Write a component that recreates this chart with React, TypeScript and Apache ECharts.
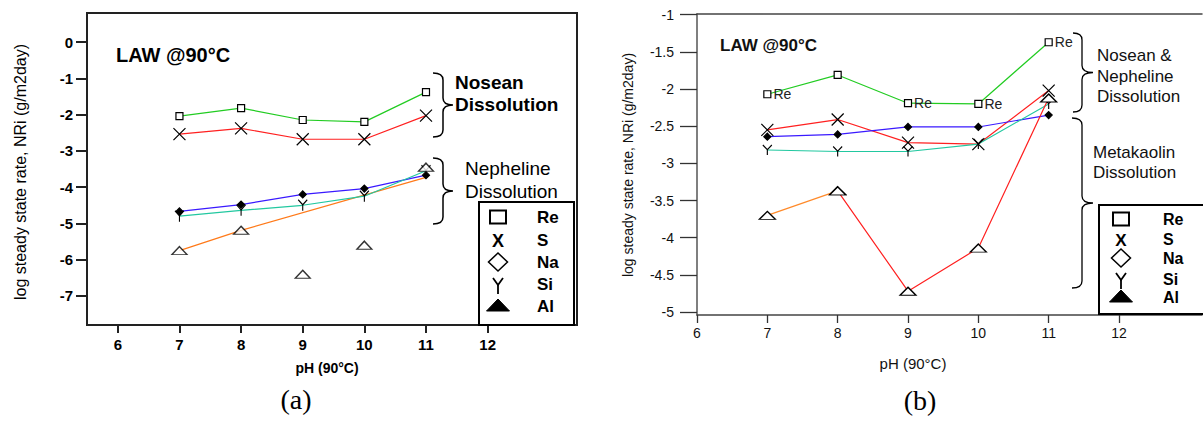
import React, { useEffect, useRef } from "react";
import * as echarts from "echarts";

// ---------- data ----------
const phValues = [7, 8, 9, 10, 11];
const xTickValues = [6, 7, 8, 9, 10, 11, 12];
const yTicksA = [-7, -6, -5, -4, -3, -2, -1, 0];
const yTicksB = [-5, -4.5, -4, -3.5, -3, -2.5, -2, -1.5, -1];

// panel (a)
const reA = [-2.04, -1.82, -2.15, -2.2, -1.38];
const sA = [-2.54, -2.38, -2.68, -2.68, -2.03];
const naA = [-4.67, -4.48, -4.2, -4.04, -3.67];
const siA = [-4.8, -4.64, -4.5, -4.25, -3.55];
const alLineA = [-5.75, -5.19, null, null, -3.73];
const alPointsA = [-5.75, -5.19, -6.4, -5.6, -3.45];

// panel (b)
const reB = [-2.07, -1.81, -2.19, -2.2, -1.37];
const reLabelB = ["Re", "", "Re", "Re", "Re"];
const sB = [-2.55, -2.41, -2.72, -2.74, -2.02];
const naB = [-2.64, -2.61, -2.51, -2.51, -2.35];
const siB = [-2.82, -2.84, -2.84, -2.74, -2.2];
const alB = [-3.7, -3.37, -4.72, -4.14, -2.12];

const legendNames = ["Re", "S", "Na", "Si", "Al"];

// ---------- helpers ----------
const FONT = "Arial, 'Liberation Sans', sans-serif";
const X_PATH = "path://M0,0L10,10M10,0L0,10";
const Y_PATH = "path://M0,0L5,6L10,0M5,6L5,13";

function braceD(w: number, h: number, s: number) {
  const r = 7;
  const m = h / 2;
  return `M0,0 Q${s},0 ${s},${r} L${s},${m - r} Q${s},${m} ${w},${m} Q${s},${m} ${s},${m + r} L${s},${h - r} Q${s},${h} 0,${h}`;
}
echarts.graphic.registerShape("braceA1", echarts.graphic.extendPath(braceD(20, 64, 10), {}));
echarts.graphic.registerShape("braceA2", echarts.graphic.extendPath(braceD(20, 66, 10), {}));
echarts.graphic.registerShape("braceB1", echarts.graphic.extendPath(braceD(20, 79, 9), {}));
echarts.graphic.registerShape("braceB2", echarts.graphic.extendPath(braceD(21, 170, 10), {}));

const pts = (ys: (number | null)[]) => phValues.map((x, i) => [x, ys[i]]);

const lineSeries = (
  name: string,
  ys: (number | null)[],
  color: string,
  symbol: string,
  size: any,
  fill: string,
  xi: number,
  yi: number
) => ({
  name,
  type: "line",
  xAxisIndex: xi,
  yAxisIndex: yi,
  data: pts(ys),
  symbol,
  symbolSize: size,
  lineStyle: { color, width: 1.2 },
  itemStyle: { color: fill, borderColor: "#000", borderWidth: 1.2 },
  z: 3,
});

function legendGraphics(
  bx: number,
  by: number,
  bw: number,
  bh: number,
  cx: number,
  tx: number,
  rows: number[],
  fs: number
) {
  const els: any[] = [
    { type: "rect", shape: { x: bx, y: by, width: bw, height: bh }, style: { fill: "#fff", stroke: "#000", lineWidth: 2 }, z: 10 },
    { type: "rect", shape: { x: cx - 8, y: rows[0] - 6.5, width: 16, height: 13 }, style: { fill: "none", stroke: "#000", lineWidth: 2 }, z: 11 },
    { type: "text", x: cx, y: rows[1] + 1, style: { text: "X", font: `bold ${fs + 1}px ${FONT}`, fill: "#000", align: "center", verticalAlign: "middle" }, z: 11 },
    { type: "polygon", shape: { points: [[cx, rows[2] - 9], [cx + 9.5, rows[2]], [cx, rows[2] + 9], [cx - 9.5, rows[2]]] }, style: { fill: "none", stroke: "#000", lineWidth: 1.5 }, z: 11 },
    { type: "polyline", shape: { points: [[cx - 5, rows[3] - 6], [cx, rows[3] + 1], [cx + 5, rows[3] - 6]] }, style: { fill: "none", stroke: "#000", lineWidth: 1.8 }, z: 11 },
    { type: "line", shape: { x1: cx, y1: rows[3] + 1, x2: cx, y2: rows[3] + 10 }, style: { stroke: "#000", lineWidth: 1.8 }, z: 11 },
    { type: "polygon", shape: { points: [[cx, rows[4] - 7], [cx + 11.5, rows[4] + 5], [cx - 11.5, rows[4] + 5]] }, style: { fill: "#000", stroke: "#000" }, z: 11 },
  ];
  legendNames.forEach((n, i) => {
    els.push({
      type: "text",
      x: tx,
      y: rows[i],
      style: { text: n, font: `bold ${fs}px ${FONT}`, fill: "#000", align: "left", verticalAlign: "middle" },
      z: 11,
    });
  });
  return els;
}

export default function App() {
  const ref = useRef<HTMLDivElement>(null);

  useEffect(() => {
    if (!ref.current) return;
    const chart = echarts.init(ref.current, undefined, { renderer: "svg" });

    const axisTextA = { color: "#000", fontSize: 15, fontWeight: "bold", fontFamily: FONT };
    const axisTextB = { color: "#111", fontSize: 14, fontFamily: FONT };

    const option: any = {
      animation: false,
      backgroundColor: "#fff",
      grid: [
        { left: 87, top: 13, width: 490, height: 312, show: true, borderColor: "#222", borderWidth: 2, backgroundColor: "transparent" },
        { left: 697, top: 14, width: 505, height: 301, show: false },
      ],
      xAxis: [
        {
          type: "value",
          gridIndex: 0,
          min: 5.5,
          max: 13.45,
          axisLine: { show: true, onZero: false, lineStyle: { color: "#222", width: 2 } },
          axisTick: { show: true, length: 8, inside: false, customValues: xTickValues, lineStyle: { color: "#222", width: 2 } },
          axisLabel: { show: true, margin: 12, customValues: xTickValues, ...axisTextA },
          splitLine: { show: false },
        },
        {
          type: "value",
          gridIndex: 1,
          min: 6,
          max: 13.18,
          axisLine: { show: true, onZero: false, lineStyle: { color: "#444", width: 1.5 } },
          axisTick: { show: true, length: 8, customValues: xTickValues, lineStyle: { color: "#333", width: 1.3 } },
          axisLabel: { show: true, margin: 11, customValues: xTickValues, ...axisTextB },
          splitLine: { show: false },
        },
        {
          type: "value",
          gridIndex: 1,
          position: "top",
          min: 6,
          max: 13.18,
          axisLine: { show: true, onZero: false, lineStyle: { color: "#444", width: 1.5 } },
          axisTick: { show: false },
          axisLabel: { show: false },
          splitLine: { show: false },
        },
      ],
      yAxis: [
        {
          type: "value",
          gridIndex: 0,
          min: -7.8,
          max: 0.8,
          axisLine: { show: true, onZero: false, lineStyle: { color: "#222", width: 2 } },
          axisTick: { show: true, length: 11, customValues: yTicksA, lineStyle: { color: "#222", width: 2 } },
          axisLabel: { show: true, margin: 14, customValues: yTicksA, ...axisTextA },
          splitLine: { show: false },
        },
        {
          type: "value",
          gridIndex: 1,
          min: -5.04,
          max: -0.99,
          axisLine: { show: true, onZero: false, lineStyle: { color: "#555", width: 1.5 } },
          axisTick: { show: true, length: 17, customValues: yTicksB, lineStyle: { color: "#333", width: 1.3 } },
          axisLabel: { show: true, margin: 23, customValues: yTicksB, ...axisTextB },
          splitLine: { show: false },
        },
      ],
      series: [
        // ---- (a) ----
        lineSeries("Re", reA, "#22cc22", "rect", 7, "#fff", 0, 0),
        lineSeries("S", sA, "#ff2020", X_PATH, 12, "transparent", 0, 0),
        lineSeries("Na", naA, "#3a1aff", "diamond", 7, "#000", 0, 0),
        lineSeries("Si", siA, "#22c8a0", Y_PATH, [9, 11], "transparent", 0, 0),
        {
          name: "Al line",
          type: "line",
          xAxisIndex: 0,
          yAxisIndex: 0,
          data: pts(alLineA),
          connectNulls: true,
          symbol: "none",
          lineStyle: { color: "#ff7a1a", width: 1.2 },
          z: 2,
        },
        {
          name: "Al",
          type: "scatter",
          xAxisIndex: 0,
          yAxisIndex: 0,
          data: pts(alPointsA),
          symbol: "triangle",
          symbolSize: [15, 8],
          itemStyle: { color: "#fff", borderColor: "#000", borderWidth: 1.3 },
          z: 4,
        },
        // ---- (b) ----
        {
          ...lineSeries("Re", reB, "#22cc22", "rect", 7, "#fff", 1, 1),
          data: phValues.map((x, i) => ({
            value: [x, reB[i]],
            label: {
              show: reLabelB[i] !== "",
              formatter: reLabelB[i],
              position: "right",
              distance: 2,
              fontSize: 14,
              color: "#222",
              fontFamily: FONT,
            },
          })),
        },
        lineSeries("S", sB, "#ff2020", X_PATH, 12, "transparent", 1, 1),
        lineSeries("Na", naB, "#3a1aff", "diamond", 7, "#000", 1, 1),
        lineSeries("Si", siB, "#22c8a0", Y_PATH, [9, 10], "transparent", 1, 1),
        {
          name: "Al",
          type: "line",
          xAxisIndex: 1,
          yAxisIndex: 1,
          data: phValues.slice(1).map((x, i) => [x, alB[i + 1]]),
          symbol: "triangle",
          symbolSize: [16, 8],
          lineStyle: { color: "#ff2020", width: 1.2 },
          itemStyle: { color: "#fff", borderColor: "#000", borderWidth: 1.3 },
          z: 3,
        },
        {
          name: "Al 7-8",
          type: "line",
          xAxisIndex: 1,
          yAxisIndex: 1,
          data: phValues.slice(0, 2).map((x, i) => [x, alB[i]]),
          symbol: "triangle",
          symbolSize: [16, 8],
          lineStyle: { color: "#ff8a2a", width: 1.2 },
          itemStyle: { color: "#fff", borderColor: "#000", borderWidth: 1.3 },
          z: 4,
        },
      ],
      graphic: [
        // titles
        { type: "text", x: 116, y: 55, style: { text: "LAW @90°C", font: `bold 20px ${FONT}`, fill: "#000", align: "left", verticalAlign: "middle" } },
        { type: "text", x: 720, y: 45, style: { text: "LAW @90°C", font: `bold 17px ${FONT}`, fill: "#111", align: "left", verticalAlign: "middle" } },
        // axis names
        { type: "text", x: 20, y: 172, rotation: Math.PI / 2, style: { text: "log steady state rate, NRi (g/m2day)", font: `16px ${FONT}`, fill: "#000", align: "center", verticalAlign: "middle" } },
        { type: "text", x: 628, y: 165, rotation: Math.PI / 2, style: { text: "log steady state rate, NRi (g/m2day)", font: `14px ${FONT}`, fill: "#111", align: "center", verticalAlign: "middle" } },
        { type: "text", x: 327, y: 368, style: { text: "pH (90°C)", font: `bold 14px ${FONT}`, fill: "#000", align: "center", verticalAlign: "middle" } },
        { type: "text", x: 913, y: 363, style: { text: "pH (90°C)", font: `15px ${FONT}`, fill: "#111", align: "center", verticalAlign: "middle" } },
        // panel labels
        { type: "text", x: 296, y: 399, style: { text: "(a)", font: `28px 'Liberation Serif', 'Times New Roman', serif`, fill: "#000", align: "center", verticalAlign: "middle" } },
        { type: "text", x: 920, y: 400, style: { text: "(b)", font: `28px 'Liberation Serif', 'Times New Roman', serif`, fill: "#000", align: "center", verticalAlign: "middle" } },
        // braces
        { type: "braceA1", x: 433, y: 73, style: { stroke: "#000", lineWidth: 1.5, fill: "none" } },
        { type: "braceA2", x: 433, y: 158, style: { stroke: "#000", lineWidth: 1.5, fill: "none" } },
        { type: "braceB1", x: 1073, y: 33, style: { stroke: "#000", lineWidth: 1.3, fill: "none" } },
        { type: "braceB2", x: 1072, y: 118, style: { stroke: "#000", lineWidth: 1.3, fill: "none" } },
        // brace texts
        { type: "text", x: 455, y: 82, style: { text: "Nosean", font: `bold 19px ${FONT}`, fill: "#000", align: "left", verticalAlign: "middle" } },
        { type: "text", x: 455, y: 104, style: { text: "Dissolution", font: `bold 19px ${FONT}`, fill: "#000", align: "left", verticalAlign: "middle" } },
        { type: "text", x: 465, y: 168, style: { text: "Nepheline", font: `19px ${FONT}`, fill: "#000", align: "left", verticalAlign: "middle" } },
        { type: "text", x: 465, y: 191, style: { text: "Dissolution", font: `19px ${FONT}`, fill: "#000", align: "left", verticalAlign: "middle" } },
        { type: "text", x: 1097, y: 55, style: { text: "Nosean &", font: `17px ${FONT}`, fill: "#111", align: "left", verticalAlign: "middle" } },
        { type: "text", x: 1097, y: 76, style: { text: "Nepheline", font: `17px ${FONT}`, fill: "#111", align: "left", verticalAlign: "middle" } },
        { type: "text", x: 1097, y: 96, style: { text: "Dissolution", font: `17px ${FONT}`, fill: "#111", align: "left", verticalAlign: "middle" } },
        { type: "text", x: 1093, y: 152, style: { text: "Metakaolin", font: `17px ${FONT}`, fill: "#111", align: "left", verticalAlign: "middle" } },
        { type: "text", x: 1093, y: 172, style: { text: "Dissolution", font: `17px ${FONT}`, fill: "#111", align: "left", verticalAlign: "middle" } },
        // legends
        ...legendGraphics(479, 202, 95, 123, 498, 537, [217, 240, 262, 284, 306], 17),
        ...legendGraphics(1099, 205, 110, 109, 1121, 1163, [219, 239, 258, 279, 297], 16),
      ],
    };

    chart.setOption(option);
    return () => chart.dispose();
  }, []);

  return (
    <div
      ref={ref}
      style={{ position: "absolute", left: 0, top: 0, width: 1203, height: 421, background: "#fff" }}
    />
  );
}
